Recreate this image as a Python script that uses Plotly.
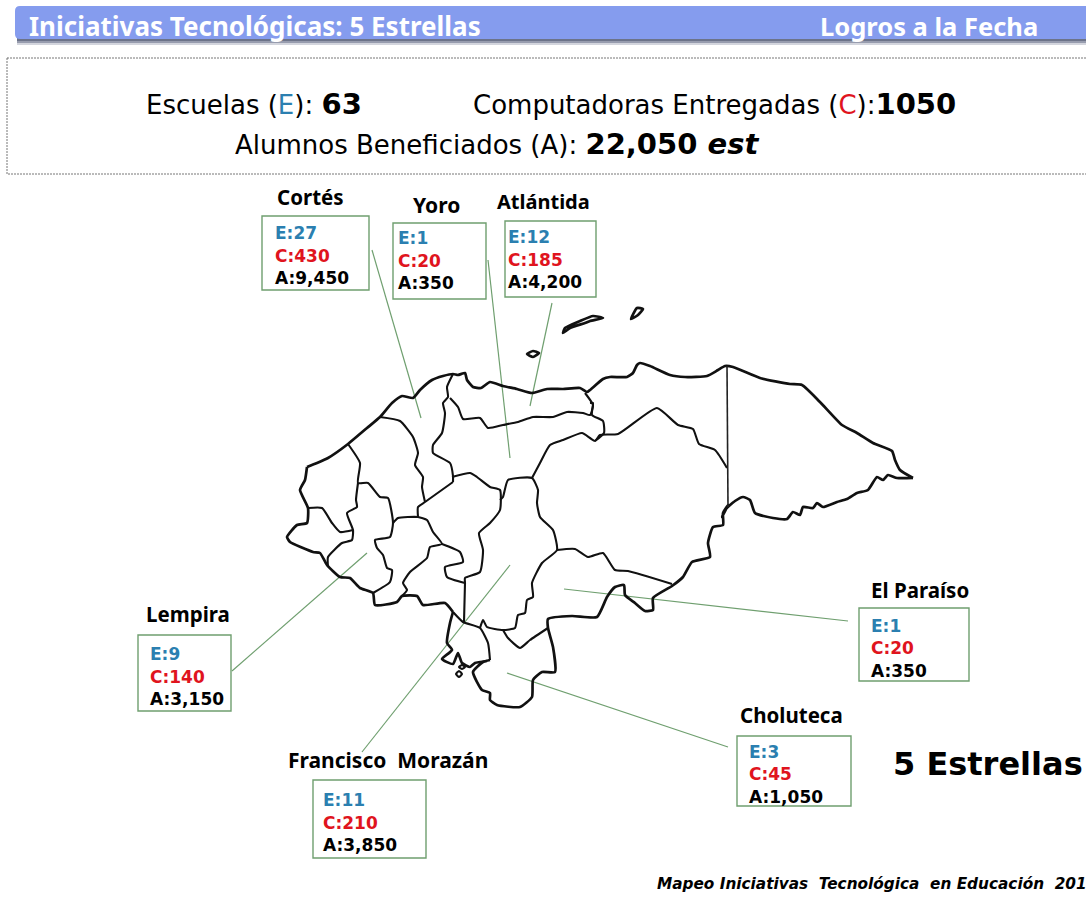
"""
Mapa de Honduras: logros de la iniciativa 5 Estrellas por departamento.
Todo se dibuja sobre ejes en pixeles de la imagen (0-1086, 0-897).
"""

import plotly.graph_objects as go

# datos por departamento
departments = ["Cortés", "Yoro", "Atlántida", "Lempira", "Francisco Morazán", "El Paraíso", "Choluteca"]
schools = [27, 1, 12, 9, 11, 1, 3]
computers = [430, 20, 185, 140, 210, 20, 45]
students = ["9,450", "350", "4,200", "3,150", "3,850", "350", "1,050"]

# colocacion de cajas y titulos
box_left = [262, 393, 505, 138, 313, 859, 737]
box_right = [369, 486, 596, 231, 426, 969, 851]
box_top = [216, 223, 221, 635, 780, 608, 736]
box_bottom = [290, 299, 297, 711, 858, 681, 806]
title_x = [275, 411, 495, 144, 286, 869, 738]
title_y = [197, 205, 201, 614, 760, 590, 715]
title_size = [20.5, 21, 20, 20.5, 21, 20.5, 20.5]
text_x = [273, 396, 506, 148, 321, 869, 747]
text_shift = [-1, -4, -3, 0, 0, 0, -0.5]

# lineas de llamada: (x0, y0, x1, y1)
callout_x0 = [372, 488, 552, 232, 362, 848, 728]
callout_y0 = [250, 260, 303, 671, 752, 621, 747]
callout_x1 = [421, 510, 530, 367, 510, 564, 507]
callout_y1 = [418, 458, 406, 553, 565, 589, 673]

# contornos del mapa
coast_north_x = [307, 317, 328, 348, 367, 380, 392, 402, 413, 420, 432, 443, 453, 458, 465, 467, 473, 481, 490, 503, 517, 532, 547, 563, 580, 587, 590, 603, 610, 627, 633, 637, 640, 650, 670, 685, 707, 718, 725, 733, 760, 790, 802, 820, 842, 857, 873, 892, 895, 900, 913]
coast_north_y = [467, 463, 458, 444, 428, 417, 403, 396, 398, 390, 380, 376, 374, 375, 373, 380, 387, 388, 382, 386, 389, 393, 389, 389, 388, 392, 390, 379, 377, 377, 373, 365, 363, 366, 375, 377, 376, 370, 366, 367, 378, 384, 385, 402, 425, 433, 443, 451, 460, 470, 478]
border_east_x = [913, 897, 888, 883, 877, 868, 857, 847, 837, 823, 817, 813, 803, 800, 793, 787, 773, 755, 750, 743, 735, 725, 722, 728, 723, 723, 713, 708, 710, 692, 683, 672, 653, 653, 645, 635, 625, 624, 615, 607, 597, 572, 548, 548, 553, 555, 542, 533, 532, 520, 497, 490, 490, 482, 473, 483, 490]
border_east_y = [478, 478, 475, 480, 477, 490, 493, 499, 502, 507, 503, 508, 507, 515, 512, 519, 518, 513, 500, 497, 501, 510, 517, 505, 513, 525, 527, 543, 557, 562, 577, 586, 598, 610, 611, 603, 595, 585, 587, 597, 617, 616, 619, 628, 647, 672, 672, 680, 697, 707, 705, 700, 693, 690, 672, 662, 660]
coast_gulf_x = [453, 450, 447, 452, 442, 453, 458, 462, 470, 475, 487]
coast_gulf_y = [612, 623, 643, 650, 659, 664, 653, 663, 667, 663, 661]
coast_west_x = [307, 305, 300, 308, 307, 297, 287, 290, 313, 320, 327, 340, 350, 360, 373, 375, 397, 402, 417, 423, 445, 453]
coast_west_y = [467, 480, 490, 508, 523, 525, 537, 542, 552, 553, 565, 577, 578, 588, 593, 605, 602, 596, 596, 605, 603, 612]

line_gd_x = [727, 728]
line_gd_y = [366, 507]
line_olancho_x = [532, 540, 550, 563, 582, 590, 595, 600, 618, 657, 678, 693, 699, 715, 727]
line_olancho_y = [478, 463, 445, 440, 433, 438, 441, 435, 434, 408, 425, 429, 444, 450, 468]
line_colon_x = [450, 458, 463, 480, 488, 503, 518, 533, 553, 567, 583, 590, 593, 585]
line_colon_y = [398, 407, 419, 418, 428, 425, 422, 417, 417, 412, 413, 415, 405, 393]
line_colon_e_x = [590, 593, 592, 603, 604, 595]
line_colon_e_y = [403, 403, 415, 421, 433, 441]
line_cortes_e_x = [453, 447, 448, 443, 445, 442, 433, 433, 450, 453, 453]
line_cortes_e_y = [374, 387, 397, 403, 413, 433, 445, 453, 463, 476, 482]
line_cortes_w_x = [380, 400, 413, 418, 415, 423, 422, 425]
line_cortes_w_y = [417, 421, 437, 453, 465, 477, 487, 502]
line_coma_x = [453, 425, 418, 418]
line_coma_y = [482, 502, 507, 517]
line_sb_x = [348, 360, 358, 368, 380, 388, 393, 390, 375, 377, 383, 387, 392, 390, 373]
line_sb_y = [444, 463, 483, 483, 497, 498, 523, 537, 540, 548, 555, 568, 570, 582, 593]
line_copan_x = [358, 356, 357, 347, 353, 352, 342, 328, 328]
line_copan_y = [483, 500, 507, 513, 530, 540, 543, 557, 567]
line_ocote_x = [308, 322, 332, 340, 353]
line_ocote_y = [508, 508, 523, 532, 530]
line_lapaz_x = [393, 398, 418, 427, 433, 442, 430, 427, 410, 403, 407, 402]
line_lapaz_y = [523, 518, 517, 520, 532, 544, 547, 558, 572, 583, 590, 596]
line_fm_w_x = [452, 470, 477, 490, 500, 500, 490, 479, 483, 480, 465, 465, 464]
line_fm_w_y = [477, 473, 477, 487, 490, 510, 523, 533, 550, 572, 578, 583, 622]
line_fm_top_x = [500, 503, 508, 532, 538, 537, 540, 553, 557, 542, 532, 533, 527, 525, 518, 515, 503, 487, 483, 480]
line_fm_top_y = [500, 497, 480, 478, 490, 503, 517, 530, 550, 563, 583, 597, 600, 613, 615, 628, 630, 627, 620, 628]
line_comayagua_s_x = [442, 460, 463, 445, 447, 465]
line_comayagua_s_y = [544, 552, 562, 567, 577, 583]
line_valle_x = [453, 463, 480, 488, 490]
line_valle_y = [612, 622, 628, 643, 660]
line_choluteca_x = [503, 508, 520, 530, 548]
line_choluteca_y = [630, 638, 648, 640, 628]
line_paraiso_x = [557, 575, 588, 603, 615, 628, 672]
line_paraiso_y = [550, 549, 557, 553, 570, 571, 584]
island_roatan_x = [563, 565, 580, 593, 603, 590, 585, 570, 563]
island_roatan_y = [333, 328, 321, 316, 318, 321, 323, 328, 333]
island_utila_x = [527, 533, 539, 533, 527]
island_utila_y = [354, 351, 353, 357, 354]
island_guanaja_x = [631, 637, 643, 638, 631]
island_guanaja_y = [319, 308, 309, 315, 319]
island_tigre_x = [456, 459, 462, 459, 456]
island_tigre_y = [674, 671, 674, 677, 674]
island_zac_x = [459, 462, 465, 462, 459]
island_zac_y = [667, 665, 667, 669, 667]

thick_paths = [
    (coast_north_x, coast_north_y), (border_east_x, border_east_y),
    (coast_gulf_x, coast_gulf_y), (coast_west_x, coast_west_y),
    (island_roatan_x, island_roatan_y), (island_utila_x, island_utila_y),
    (island_guanaja_x, island_guanaja_y),
]
thin_paths = [
    (line_olancho_x, line_olancho_y), (line_colon_x, line_colon_y),
    (line_colon_e_x, line_colon_e_y), (line_cortes_e_x, line_cortes_e_y),
    (line_cortes_w_x, line_cortes_w_y), (line_coma_x, line_coma_y), (line_sb_x, line_sb_y),
    (line_copan_x, line_copan_y), (line_ocote_x, line_ocote_y), (line_lapaz_x, line_lapaz_y),
    (line_fm_w_x, line_fm_w_y), (line_fm_top_x, line_fm_top_y),
    (line_comayagua_s_x, line_comayagua_s_y), (line_valle_x, line_valle_y),
    (line_choluteca_x, line_choluteca_y), (line_paraiso_x, line_paraiso_y),
    (island_tigre_x, island_tigre_y), (island_zac_x, island_zac_y),
]

GREEN = "#6f9f6f"
BLUE = "#2b7fb0"
RED = "#e0141e"
VERDANA = "DejaVu Sans"
TITLE_FONT = "Noto Sans"

fig = go.Figure()

# lineas de llamada
for x0, y0, x1, y1 in zip(callout_x0, callout_y0, callout_x1, callout_y1):
    fig.add_trace(go.Scatter(x=[x0, x1], y=[y0, y1], mode="lines", line=dict(color=GREEN, width=1.2), hoverinfo="skip"))

for px, py in thick_paths:
    fig.add_trace(go.Scatter(x=px, y=py, mode="lines", line=dict(color="#111111", width=2.7, shape="spline", smoothing=0.5), hoverinfo="skip"))
for px, py in thin_paths:
    fig.add_trace(go.Scatter(x=px, y=py, mode="lines", line=dict(color="#111111", width=2.1, shape="spline", smoothing=0.5), hoverinfo="skip"))
fig.add_trace(go.Scatter(x=line_gd_x, y=line_gd_y, mode="lines", line=dict(color="#222222", width=1.6), hoverinfo="skip"))


def add_text(x, y, text, size, color="black", family=VERDANA):
    fig.add_annotation(x=x, y=y, text=text, showarrow=False, xanchor="left", yanchor="middle",
                       font=dict(size=size, color=color, family=family), align="left")


shapes = []

# barra de encabezado con sombra
for y0, y1, c in [(38, 41, "#6c7389"), (41, 43, "#979cae"), (43, 45, "#d3d5dd")]:
    shapes.append(dict(type="rect", x0=17, x1=1086, y0=y0, y1=y1, fillcolor=c, line_width=0, layer="below"))
shapes.append(dict(type="path", path="M 15 11 Q 15 6 20 6 L 1090 6 L 1090 39 L 20 39 Q 15 39 15 34 Z",
                   fillcolor="#859cee", line_width=0, layer="below"))

# recuadro punteado
shapes.append(dict(type="rect", x0=7, x1=1092, y0=58, y1=174, fillcolor="white",
                   line=dict(color="#777777", width=1, dash="2px,1px"), layer="below"))

# cajas de departamentos
for x0, x1, y0, y1 in zip(box_left, box_right, box_top, box_bottom):
    shapes.append(dict(type="rect", x0=x0, x1=x1, y0=y0, y1=y1, fillcolor="white",
                       line=dict(color=GREEN, width=1.4), layer="above"))

fig.update_layout(shapes=shapes)

for i, name in enumerate(departments):
    label = name.replace("Francisco ", "Francisco\u00a0\u00a0")
    add_text(title_x[i], title_y[i], f"<b>{label}</b>", title_size[i], family=TITLE_FONT)
    ymid = (box_top[i] + box_bottom[i]) / 2 + text_shift[i]
    add_text(text_x[i], ymid - 19, f"<b>E:{schools[i]}</b>", 17, BLUE)
    add_text(text_x[i], ymid + 3.5, f"<b>C:{computers[i]}</b>", 17, RED)
    add_text(text_x[i], ymid + 26, f"<b>A:{students[i]}</b>", 17)

add_text(27, 26, "<b>Iniciativas Tecnológicas: 5 Estrellas</b>", 26, "white", "Noto Sans")
add_text(818, 26, "<b>Logros a la Fecha</b>", 25.5, "white", "Noto Sans")

add_text(144, 104, f'Escuelas (<span style="color:{BLUE}">E</span>): <b style="font-size:29px">63</b>', 26)
add_text(471, 104, f'Computadoras Entregadas (<span style="color:{RED}">C</span>):<b style="font-size:29px">1050</b>', 26)
add_text(233, 144, 'Alumnos Beneficiados (A): <b style="font-size:29px">22,050 <i>est</i></b>', 26)

add_text(891, 764, "<b>5 Estrellas</b>", 32)
add_text(655, 884, "<b><i>Mapeo\u00a0Iniciativas\u00a0 Tecnológica\u00a0 en\u00a0Educación\u00a0 201</i></b>", 15.3)

fig.update_layout(
    width=1086,
    height=897,
    margin=dict(l=0, r=0, t=0, b=0),
    paper_bgcolor="white",
    plot_bgcolor="white",
    showlegend=False,
    xaxis=dict(range=[0, 1086], visible=False, fixedrange=True),
    yaxis=dict(range=[897, 0], visible=False, fixedrange=True),
)

fig.write_html("out.html", post_script="document.body.style.margin='0';", config=dict(displayModeBar=False))
